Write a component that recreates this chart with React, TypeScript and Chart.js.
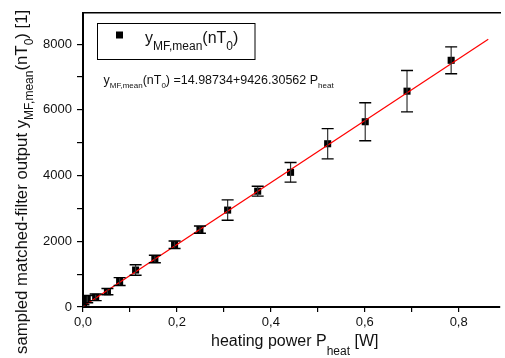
import React, { useEffect, useRef } from 'react';
import { Chart, registerables } from 'chart.js';

Chart.register(...registerables);

// ---- data ----
const heatingPower = [0.001, 0.009, 0.027, 0.052, 0.078, 0.112, 0.153, 0.195, 0.249, 0.308, 0.372, 0.442, 0.521, 0.601, 0.690, 0.784];
const filterOutput = [30, 240, 295, 466, 775, 1125, 1460, 1895, 2355, 2950, 3525, 4100, 4970, 5640, 6570, 7510];
const errorValues = [40, 110, 100, 95, 120, 160, 115, 115, 110, 310, 150, 300, 460, 580, 630, 410];
const fitX = [0, 0.863];
const fitY = [15, 8150];

const xTicks = [0, 0.1, 0.2, 0.3, 0.4, 0.5, 0.6, 0.7, 0.8];
const xTickLabels = ['0,0', '', '0,2', '', '0,4', '', '0,6', '', '0,8'];
const yTicks = [0, 1000, 2000, 3000, 4000, 5000, 6000, 7000, 8000];
const yTickLabels = ['0', '', '2000', '', '4000', '', '6000', '', '8000'];

const xMin = 0;
const xMax = 0.888;
const yMin = 0;
const yMax = 8950;

type Seg = { t: string; sub?: boolean };

function drawRich(
  ctx: CanvasRenderingContext2D,
  x: number,
  y: number,
  segs: Seg[],
  mainFont: string,
  subFont: string,
  subOffset: number
) {
  let cx = x;
  ctx.textAlign = 'left';
  ctx.textBaseline = 'alphabetic';
  for (const s of segs) {
    ctx.font = s.sub ? subFont : mainFont;
    ctx.fillText(s.t, cx, y + (s.sub ? subOffset : 0));
    cx += ctx.measureText(s.t).width;
  }
  return cx;
}

const FONT = '"Liberation Sans", Arial, sans-serif';

const errorBarPlugin = {
  id: 'errorBars',
  afterDatasetsDraw(chart: any) {
    const { ctx, scales, chartArea } = chart;
    const xs = scales.x;
    const ys = scales.y;
    ctx.save();
    ctx.beginPath();
    ctx.rect(chartArea.left, chartArea.top - 2, chartArea.right - chartArea.left, chartArea.bottom - chartArea.top + 4);
    ctx.clip();
    for (let i = 0; i < heatingPower.length; i++) {
      const px = xs.getPixelForValue(heatingPower[i]);
      const top = ys.getPixelForValue(filterOutput[i] + errorValues[i]);
      const bot = ys.getPixelForValue(filterOutput[i] - errorValues[i]);
      ctx.strokeStyle = '#333';
      ctx.lineWidth = 1.2;
      ctx.beginPath();
      ctx.moveTo(px, top);
      ctx.lineTo(px, bot);
      ctx.stroke();
      ctx.strokeStyle = '#000';
      ctx.lineWidth = 1.4;
      ctx.beginPath();
      ctx.moveTo(px - 6, top);
      ctx.lineTo(px + 6, top);
      ctx.moveTo(px - 6, bot);
      ctx.lineTo(px + 6, bot);
      ctx.stroke();
    }
    ctx.restore();
  },
};

const annotationPlugin = {
  id: 'annotations',
  afterDraw(chart: any) {
    const { ctx } = chart;
    ctx.save();
    ctx.fillStyle = '#111';

    // legend box
    ctx.strokeStyle = '#000';
    ctx.lineWidth = 1;
    ctx.strokeRect(97.5, 23.5, 157.5, 36);
    ctx.fillStyle = '#000';
    ctx.fillRect(116, 31.5, 7, 7);
    ctx.fillStyle = '#111';
    drawRich(
      ctx,
      145,
      42.5,
      [{ t: 'y' }, { t: 'MF,mean', sub: true }, { t: '(nT' }, { t: '0', sub: true }, { t: ')' }],
      `16px ${FONT}`,
      `12px ${FONT}`,
      7.5
    );

    // fit equation
    drawRich(
      ctx,
      103.5,
      83.5,
      [
        { t: 'y' },
        { t: 'MF,mean', sub: true },
        { t: '(nT' },
        { t: '0', sub: true },
        { t: ') =14.98734+9426.30562 P' },
        { t: 'heat', sub: true },
      ],
      `12.5px ${FONT}`,
      `8px ${FONT}`,
      4.5
    );

    // x axis title
    drawRich(
      ctx,
      211,
      345.5,
      [{ t: 'heating power P' }, { t: 'heat', sub: true }, { t: ' [W]' }],
      `16px ${FONT}`,
      `12px ${FONT}`,
      9.5
    );

    // y axis title
    ctx.translate(26.5, 354);
    ctx.rotate(-Math.PI / 2);
    drawRich(
      ctx,
      0,
      0,
      [
        { t: 'sampled matched-filter output y' },
        { t: 'MF,mean', sub: true },
        { t: '(nT' },
        { t: '0', sub: true },
        { t: ') [1]' },
      ],
      `16.8px ${FONT}`,
      `12px ${FONT}`,
      6.5
    );
    ctx.restore();
  },
};

export default function App() {
  const canvasRef = useRef<HTMLCanvasElement | null>(null);

  useEffect(() => {
    document.body.style.margin = '0';
    const canvas = canvasRef.current;
    if (!canvas) return;
    const scatterData = heatingPower.map((x, i) => ({ x, y: filterOutput[i] }));
    const fitData = fitX.map((x, i) => ({ x, y: fitY[i] }));

    const chart = new Chart(canvas, {
      type: 'scatter',
      data: {
        datasets: [
          {
            type: 'line',
            label: 'fit',
            data: fitData,
            borderColor: '#ff0000',
            borderWidth: 1.2,
            pointRadius: 0,
            fill: false,
          } as any,
          {
            label: 'yMF,mean(nT0)',
            data: scatterData,
            pointStyle: 'rect',
            pointRadius: 5,
            backgroundColor: '#000',
            borderWidth: 0,
          },
        ],
      },
      options: {
        animation: false,
        responsive: false,
        devicePixelRatio: 1,
        layout: { padding: 0 },
        plugins: {
          legend: { display: false },
          tooltip: { enabled: false },
        },
        scales: {
          x: {
            type: 'linear',
            position: 'bottom',
            min: xMin,
            max: xMax,
            afterBuildTicks: (s: any) => {
              s.ticks = xTicks.map((v) => ({ value: v }));
            },
            afterFit: (s: any) => {
              s.height = 51;
            },
            border: { display: true, color: '#000', width: 2 },
            grid: { drawOnChartArea: false, drawTicks: true, tickLength: 5, color: '#000', lineWidth: 1.2 },
            ticks: {
              autoSkip: false,
              maxRotation: 0,
              padding: 3,
              color: '#111',
              font: { family: FONT, size: 13 },
              callback: (_v: any, i: number) => xTickLabels[i] ?? '',
            },
          },
          x2: {
            type: 'linear',
            position: 'top',
            min: xMin,
            max: xMax,
            afterFit: (s: any) => {
              s.height = 13;
            },
            border: { display: true, color: '#000', width: 1.5 },
            grid: { display: false, drawTicks: false },
            ticks: { display: false },
          },
          y: {
            type: 'linear',
            min: yMin,
            max: yMax,
            afterBuildTicks: (s: any) => {
              s.ticks = yTicks.map((v) => ({ value: v }));
            },
            afterFit: (s: any) => {
              s.width = 83;
            },
            border: { display: true, color: '#000', width: 2 },
            grid: { drawOnChartArea: false, drawTicks: true, tickLength: 6, color: '#000', lineWidth: 1.2 },
            ticks: {
              autoSkip: false,
              padding: 5,
              color: '#111',
              font: { family: FONT, size: 13 },
              callback: (_v: any, i: number) => yTickLabels[i] ?? '',
            },
          },
        },
      },
      plugins: [errorBarPlugin, annotationPlugin],
    });
    return () => chart.destroy();
  }, []);

  return (
    <div style={{ position: 'absolute', left: 0, top: 0, width: 505, height: 358, background: '#fff' }}>
      <canvas ref={canvasRef} width={505} height={358} style={{ width: 505, height: 358, display: 'block' }} />
    </div>
  );
}
